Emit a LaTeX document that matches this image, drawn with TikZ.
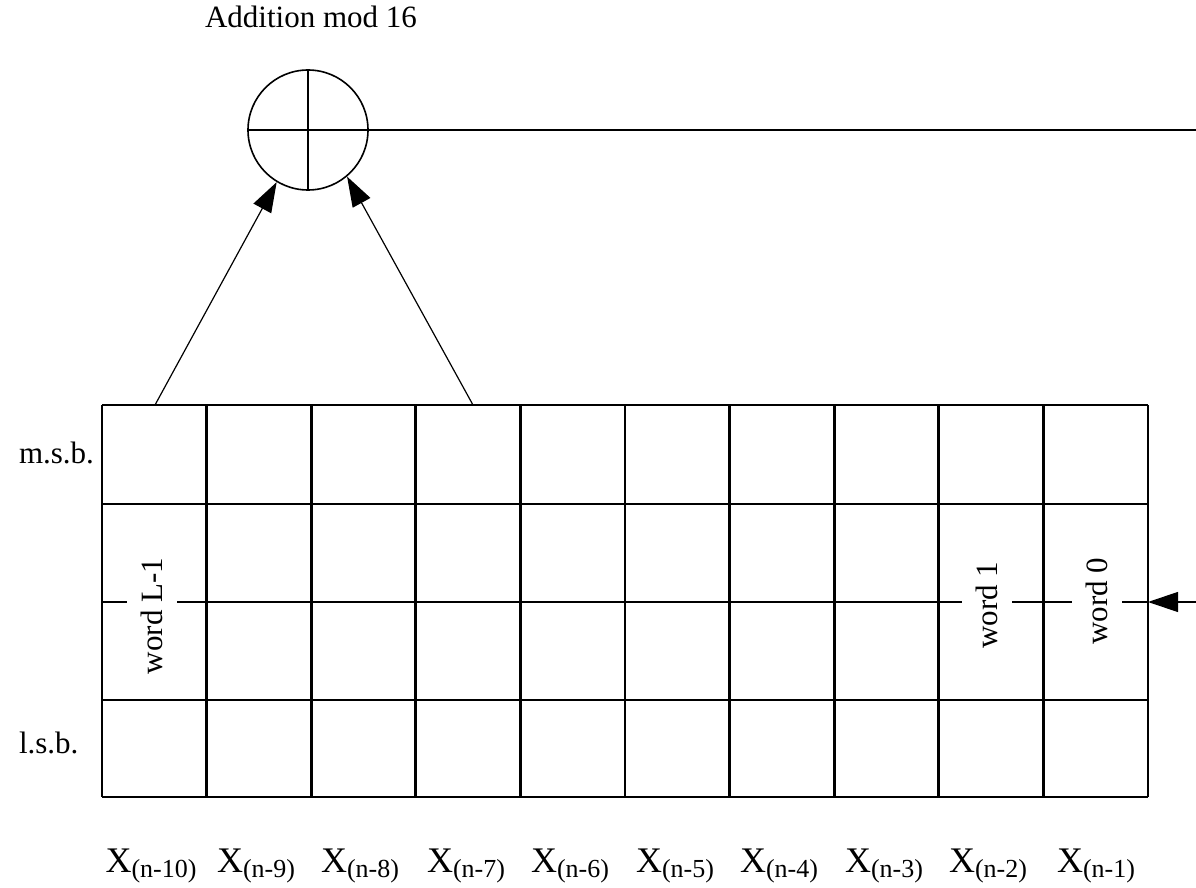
\documentclass[tikz,border=0pt]{standalone}
\usepackage{fontspec}
\setmainfont{Liberation Serif}
\usetikzlibrary{arrows.meta}

% label font and the X_(n-k) column labels
\newcommand{\lbl}{\fontsize{15.5}{18}\selectfont}
\newcommand{\xcol}[1]{{\fontsize{18}{21}\selectfont X}\raisebox{-2.6pt}{\fontsize{13}{15}\selectfont(#1)}}

\tikzset{
  gridline/.style={line width=1.4pt},
  wordlabel/.style={rotate=90, fill=white, inner xsep=1pt, inner ysep=7pt, font=\lbl},
  feed/.style={draw, line width=0.6pt, -{Triangle[length=15pt,width=10pt]}}
}

\begin{document}
\begin{tikzpicture}[x=0.5pt, y=-0.5pt]
\useasboundingbox (0,0) rectangle (1196,888);

% adder
\node[draw, circle, line width=0.8pt, minimum size=60pt, inner sep=0pt] (add) at (308,130) {};
\path[draw,line width=0.8pt] (add.north) -- (add.south);
\path[draw,line width=0.8pt] (add.west) -- (add.east);
\node[font=\lbl, anchor=base] (addlbl) at (311,28) {Addition mod 16};
\coordinate (out) at (1196,130);
\path[draw,line width=0.8pt] (add.east) -- (out);

% register of L words
\foreach \x in {102,206.6,311.2,415.8,520.4,625,729.6,834.2,938.8,1043.4,1148}
  \path[draw,gridline] (\x,405) -- (\x,797);
\foreach \y in {405,504,700,797}
  \path[draw,gridline] (102,\y) -- (1148,\y);
\coordinate (w0) at (1148,602);
\path[draw,gridline] (102,602) -- (w0);

\node[wordlabel] (wL) at (152,616) {word L-1};
\node[wordlabel] (w1) at (987,605) {word 1};
\node[wordlabel] (wz) at (1097,601) {word 0};

\node[font=\lbl, anchor=base west] (msb) at (12,463) {m.s.b.};
\node[font=\lbl, anchor=base west] (lsb) at (12,753) {l.s.b.};

% taps into the adder
\coordinate (tapA) at (155,405);
\coordinate (tapB) at (473,405);
\path[feed] (tapA) -- (add.-121);
\path[feed] (tapB) -- (add.-50);

% new word shifted in
\coordinate (in) at (1196,602);
\path[feed] (in) -- (w0);

% column labels
\node[anchor=base] (x10) at (151,872) {\xcol{n-10}};
\node[anchor=base] (x9) at (256,872) {\xcol{n-9}};
\node[anchor=base] (x8) at (360,872) {\xcol{n-8}};
\node[anchor=base] (x7) at (466,872) {\xcol{n-7}};
\node[anchor=base] (x6) at (570,872) {\xcol{n-6}};
\node[anchor=base] (x5) at (675,872) {\xcol{n-5}};
\node[anchor=base] (x4) at (779,872) {\xcol{n-4}};
\node[anchor=base] (x3) at (884,872) {\xcol{n-3}};
\node[anchor=base] (x2) at (988,872) {\xcol{n-2}};
\node[anchor=base] (x1) at (1096,872) {\xcol{n-1}};
\end{tikzpicture}
\end{document}
